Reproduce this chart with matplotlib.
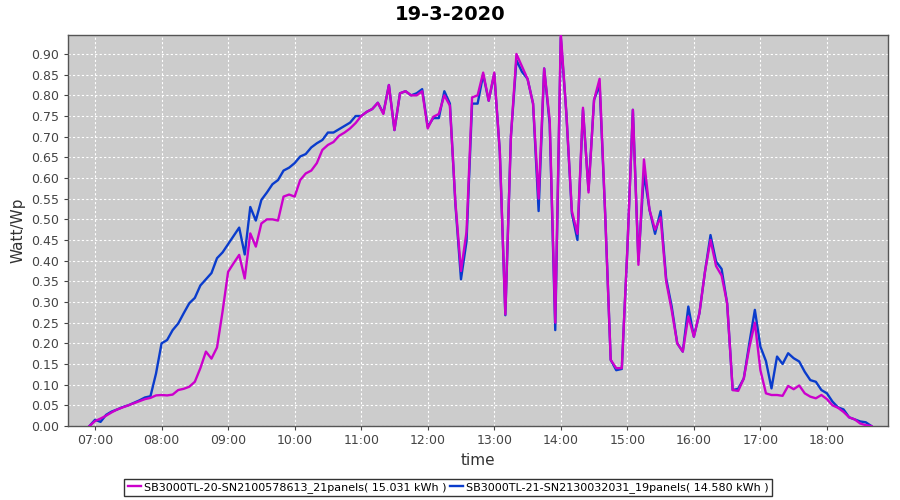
import pandas as pd
import matplotlib
matplotlib.use("Agg")
import matplotlib.pyplot as plt
import matplotlib.dates as mdates

title = "19-3-2020"
label_a = "SB3000TL-20-SN2100578613_21panels( 15.031 kWh )"
label_b = "SB3000TL-21-SN2130032031_19panels( 14.580 kWh )"

# 5 minute samples from 06:55 to 18:40
times = pd.date_range("2020-03-19 06:55", "2020-03-19 18:40", freq="5min")

watt_a = [
    0.0, 0.012, 0.018, 0.025, 0.033, 0.04, 0.045, 0.05, 0.055, 0.06, 0.065, 0.068,
    0.074, 0.075, 0.074, 0.076, 0.087, 0.09, 0.095, 0.107, 0.14, 0.18, 0.163, 0.19,
    0.277, 0.373, 0.394, 0.414, 0.357, 0.466, 0.434, 0.49, 0.50, 0.50, 0.497, 0.555,
    0.56, 0.555, 0.595, 0.611, 0.618, 0.636, 0.668, 0.68, 0.687, 0.702, 0.71, 0.72,
    0.733, 0.75, 0.76, 0.767, 0.782, 0.755, 0.825, 0.716, 0.805, 0.81, 0.80, 0.80,
    0.81, 0.72, 0.748, 0.755, 0.80, 0.775, 0.54, 0.375, 0.47, 0.795, 0.80, 0.855,
    0.787, 0.855, 0.664, 0.27, 0.70, 0.90, 0.87, 0.84, 0.78, 0.55, 0.865, 0.74,
    0.25, 0.95, 0.757, 0.52, 0.465, 0.77, 0.565, 0.789, 0.84, 0.514, 0.16, 0.14,
    0.14, 0.426, 0.765, 0.39, 0.645, 0.523, 0.475, 0.505, 0.35, 0.28, 0.20, 0.18,
    0.265, 0.216, 0.273, 0.373, 0.45, 0.387, 0.364, 0.297, 0.087, 0.085, 0.115, 0.19,
    0.25, 0.135, 0.079, 0.075, 0.075, 0.073, 0.097, 0.089, 0.098, 0.079, 0.071, 0.067,
    0.075, 0.065, 0.05, 0.044, 0.034, 0.021, 0.016, 0.006, 0.002, 0.0,
]

watt_b = [
    0.0, 0.015, 0.01, 0.027, 0.035, 0.04, 0.046, 0.05, 0.056, 0.062, 0.069, 0.072,
    0.127, 0.20, 0.208, 0.232, 0.248, 0.273, 0.297, 0.31, 0.34, 0.355, 0.37, 0.406,
    0.42, 0.44, 0.46, 0.48, 0.415, 0.53, 0.497, 0.547, 0.565, 0.585, 0.595, 0.618,
    0.625, 0.636, 0.652, 0.658, 0.674, 0.684, 0.692, 0.71, 0.71, 0.718, 0.726, 0.734,
    0.75, 0.75, 0.76, 0.767, 0.782, 0.757, 0.825, 0.716, 0.805, 0.81, 0.80, 0.805,
    0.815, 0.724, 0.745, 0.745, 0.81, 0.78, 0.535, 0.355, 0.447, 0.78, 0.78, 0.85,
    0.787, 0.852, 0.664, 0.268, 0.70, 0.885, 0.857, 0.84, 0.78, 0.52, 0.865, 0.73,
    0.232, 0.94, 0.757, 0.514, 0.45, 0.765, 0.571, 0.789, 0.825, 0.514, 0.16, 0.135,
    0.138, 0.426, 0.765, 0.40, 0.611, 0.523, 0.465, 0.52, 0.357, 0.289, 0.20, 0.18,
    0.289, 0.216, 0.273, 0.373, 0.462, 0.398, 0.38, 0.297, 0.087, 0.09, 0.115, 0.20,
    0.281, 0.192, 0.157, 0.091, 0.168, 0.15, 0.176, 0.164, 0.156, 0.131, 0.111, 0.107,
    0.087, 0.079, 0.059, 0.045, 0.04, 0.021, 0.016, 0.011, 0.009, 0.0,
]

col_a = "#cc00cc"
col_b = "#0a3ccc"

fig = plt.figure(figsize=(9, 5), dpi=100)
ax = fig.add_axes([0.0756, 0.148, 0.911, 0.782])
ax.set_facecolor("#cccccc")

ax.plot(times, watt_b, color=col_b, lw=1.7, label=label_b, zorder=3, solid_joinstyle="round")
ax.plot(times, watt_a, color=col_a, lw=1.7, label=label_a, zorder=4, solid_joinstyle="round")

ax.set_ylim(0, 0.946)
ax.set_xlim(pd.Timestamp("2020-03-19 06:35:40"), pd.Timestamp("2020-03-19 18:55"))
ax.set_yticks([i * 0.05 for i in range(19)])
ax.yaxis.set_major_formatter(matplotlib.ticker.FormatStrFormatter("%.2f"))
ax.xaxis.set_major_locator(mdates.HourLocator())
ax.xaxis.set_major_formatter(mdates.DateFormatter("%H:%M"))

ax.grid(True, color="white", ls=(0, (2, 2)), lw=0.8)
ax.set_axisbelow(True)
for s in ax.spines.values():
    s.set_color("#555555")
    s.set_linewidth(1.0)
ax.tick_params(colors="#444444", labelsize=9, length=3, width=0.8)
ax.tick_params(axis="x", pad=3)

ax.set_ylabel("Watt/Wp", fontsize=11, color="#333333")
ax.set_xlabel("time", fontsize=11, color="#333333", labelpad=4)
fig.suptitle(title, fontsize=14, fontweight="bold", y=0.99)

leg = fig.legend(handles=[ax.lines[1], ax.lines[0]], loc="center", bbox_to_anchor=(0.4977, 0.025),
                 ncol=2, fontsize=8, frameon=True, fancybox=False, handlelength=1.2,
                 handletextpad=0.25, columnspacing=0.3, borderpad=0.3, borderaxespad=0)
leg.get_frame().set_edgecolor("black")
leg.get_frame().set_linewidth(1.0)

fig.savefig("out.png", dpi=100)
